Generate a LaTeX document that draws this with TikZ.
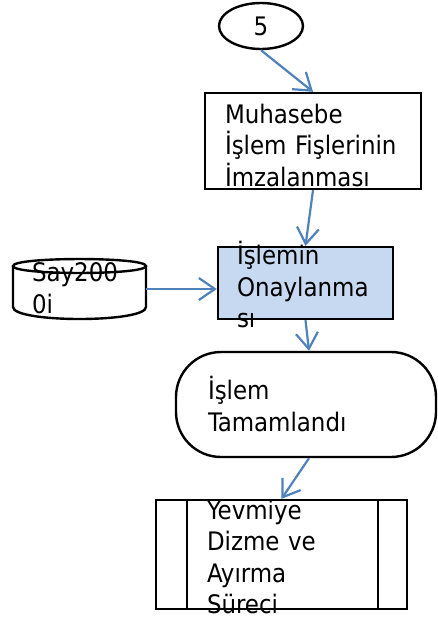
\documentclass[tikz,border=0pt]{standalone}
\usepackage{fontspec}
\setmainfont{DejaVu Sans Condensed}
\usetikzlibrary{shapes.geometric, arrows.meta, positioning}
\definecolor{okmavi}{HTML}{4F81BD}
\definecolor{onaymavi}{HTML}{C6D9F1}

\begin{document}
\begin{tikzpicture}
            [x=1pt, y=-1pt, >={Straight Barb[length=16pt, width=22pt]},
             kutu/.style={draw=black, line width=2.4pt, inner sep=0pt},
             yazi/.style={font=\fontsize{25.5}{31.5}\selectfont, align=left, inner sep=0pt},
             ok/.style={->, draw=okmavi, line width=2.2pt}]
            \useasboundingbox (0,0) rectangle (437,619);

            \node[kutu, shape=ellipse, minimum width=84pt, minimum height=46pt] (bes) at (261,26) {};
            \node[yazi] (bestext) at (bes) {5};
            \node[kutu, minimum width=216pt, minimum height=96pt] (muhasebe) at (313,141) {};
            \node[yazi, text width=176pt] (muhasebetext) at (313,145) {Muhasebe\\İşlem Fişlerinin\\İmzalanması};
            \node[kutu, fill=onaymavi, minimum width=175pt, minimum height=72pt] (onay) at (305.5,283) {};
            \node[yazi, text width=137pt] (onaytext) at (305.5,285) {İşlemin\\Onaylanma\\sı};
            % disk (silindir)
            \node[minimum width=133pt, minimum height=60pt, inner sep=0pt] (say) at (79.5,289) {};
            \draw[kutu] (13,266) -- (13,307) .. controls (13,323) and (146,323) .. (146,307) -- (146,266);
            \draw[kutu] (13,266) .. controls (13,256.7) and (146,256.7) .. (146,266)
                .. controls (146,275.3) and (13,275.3) .. cycle;
            \node[yazi, text width=95pt] (saytext) at (79.5,288) {Say200\\0i};
            \node[kutu, rounded corners=45pt, minimum width=260pt, minimum height=105pt] (bitis) at (306,404.5) {};
            \node[yazi, text width=197pt] (bitistext) at (306.5,404) {İşlem\\Tamamlandı};
            \node[kutu, minimum width=251pt, minimum height=109pt] (yevmiye) at (281.5,554.5) {};
            \node[yazi, text width=149pt] (yevmiyetext) at (281.5,557) {Yevmiye\\Dizme ve\\Ayırma\\Süreci};
            \draw[kutu] ([xshift=32pt]yevmiye.north west) -- ([xshift=32pt]yevmiye.south west);
            \draw[kutu] ([xshift=-30pt]yevmiye.north east) -- ([xshift=-30pt]yevmiye.south east);

            \draw [ok] (bes.south) -- (muhasebe.north);
            \draw [ok] (muhasebe.south) -- (onay.north);
            \draw [ok] (say.east) -- (say.east -| onay.west);
            \draw [ok] (onay.south) -- ([xshift=3pt]bitis.north);
            \draw [ok] ([xshift=3pt]bitis.south) -- (yevmiye.north);
        \end{tikzpicture}
\end{document}
